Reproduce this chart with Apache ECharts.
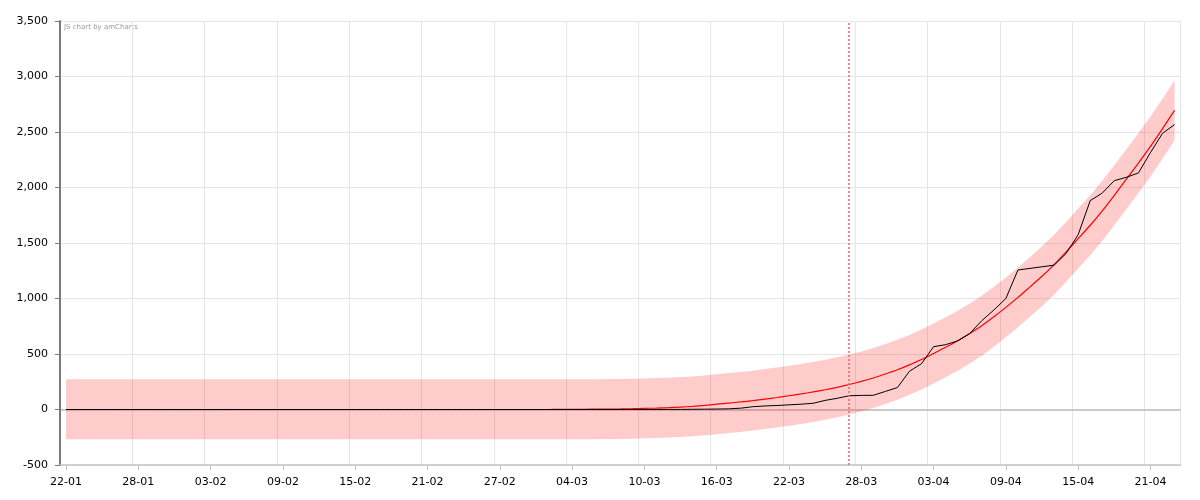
<!DOCTYPE html>
<html>
<head>
<meta charset="utf-8">
<script src="https://cdn.jsdelivr.net/npm/echarts@6/dist/echarts.min.js"></script>
<style>
html,body{margin:0;padding:0;background:#fff;}
#chart{width:1200px;height:500px;}
</style>
</head>
<body>
<div id="chart"></div>
<script>
var categories = [
 '22-01','23-01','24-01','25-01','26-01','27-01','28-01','29-01','30-01','31-01',
 '01-02','02-02','03-02','04-02','05-02','06-02','07-02','08-02','09-02','10-02',
 '11-02','12-02','13-02','14-02','15-02','16-02','17-02','18-02','19-02','20-02',
 '21-02','22-02','23-02','24-02','25-02','26-02','27-02','28-02','29-02',
 '01-03','02-03','03-03','04-03','05-03','06-03','07-03','08-03','09-03','10-03',
 '11-03','12-03','13-03','14-03','15-03','16-03','17-03','18-03','19-03','20-03',
 '21-03','22-03','23-03','24-03','25-03','26-03','27-03','28-03','29-03','30-03','31-03',
 '01-04','02-04','03-04','04-04','05-04','06-04','07-04','08-04','09-04','10-04',
 '11-04','12-04','13-04','14-04','15-04','16-04','17-04','18-04','19-04','20-04',
 '21-04','22-04','23-04'
];

var actual = [
 0,0,0,0,0,0,0,0,0,0,
 0,0,0,0,0,0,0,0,0,0,
 0,0,0,0,0,0,0,0,0,0,
 0,0,0,0,0,0,0,0,0,0,
 0,0,0,0,0,0,0,0,0,0,
 1,1,2,3,4,6,12,25,32,36,
 42,48,56,82,101,124,127,128,163,198,
 345,413,566,584,618,684,800,896,1000,1257,
 1271,1286,1300,1405,1575,1882,1950,2062,2092,2131,
 2315,2488,2567
];

var fitted = [
 0,0,0,0,0,0,0,0,0,0,
 0,0,0,0,0,0,0,0,0,0,
 0,0,0,0,0,0,0,0,0,0,
 0,0,0,0,0,0,0,0,0,0,
 0,1,1,2,3,4,5,7,10,13,
 17,22,28,37,48,58,68,80,94,108,
 124,140,158,178,200,225,253,284,320,358,
 402,450,505,560,620,685,755,835,920,1010,
 1105,1200,1305,1420,1540,1660,1790,1930,2075,2220,
 2370,2530,2695
];

var bandLower = [
 -268,-268,-268,-268,-268,-268,-268,-268,-268,-268,
 -268,-268,-268,-268,-268,-268,-268,-268,-268,-268,
 -268,-268,-268,-268,-268,-268,-268,-268,-268,-268,
 -268,-268,-268,-268,-268,-268,-268,-268,-268,-268,
 -268,-268,-268,-267,-267,-266,-265,-263,-260,-257,
 -253,-248,-242,-233,-222,-212,-202,-190,-176,-162,
 -146,-130,-112,-92,-70,-45,-17,14,50,88,
 132,180,235,290,350,415,485,565,650,740,
 835,930,1035,1150,1270,1390,1520,1660,1805,1950,
 2100,2260,2425
];

var bandUpper = [
 272,272,272,272,272,272,272,272,272,272,
 272,272,272,272,272,272,272,272,272,272,
 272,272,272,272,272,272,272,272,272,272,
 272,272,272,272,272,272,272,272,272,272,
 272,272,272,273,273,274,275,277,280,283,
 287,292,298,307,318,328,338,350,364,378,
 394,410,428,448,470,495,523,554,590,628,
 672,720,775,830,890,955,1025,1105,1190,1280,
 1375,1470,1575,1690,1810,1930,2060,2200,2345,2490,
 2640,2800,2965
];

var yTicks = {min: -500, max: 3500, step: 500};
var markerDate = '27-03';
var creditText = 'JS chart by amCharts';

var bandWidth = bandUpper.map(function (u, i) { return u - bandLower[i]; });

var chart = echarts.init(document.getElementById('chart'), null, {renderer: 'canvas'});
var font = 'DejaVu Sans, Verdana, sans-serif';

chart.setOption({
  animation: false,
  backgroundColor: '#ffffff',
  grid: {left: 60, right: 19.4, top: 21, bottom: 35, containLabel: false},
  graphic: [{
    type: 'text', left: 64, top: 24,
    style: {text: creditText, fill: '#9a9a9a', font: '7px ' + font}
  }],
  xAxis: {
    type: 'category',
    data: categories,
    boundaryGap: true,
    axisLine: {onZero: false, lineStyle: {color: '#c4c4c4', width: 1.5}},
    axisTick: {show: true, interval: 5, alignWithLabel: true, length: 5, lineStyle: {color: '#c4c4c4', width: 1}},
    axisLabel: {interval: 5, color: '#000', fontFamily: font, fontSize: 11, margin: 12},
    splitLine: {show: true, interval: 5, lineStyle: {color: '#e6e6e6', width: 1}}
  },
  yAxis: {
    type: 'value',
    min: yTicks.min, max: yTicks.max, interval: yTicks.step,
    axisLine: {show: true, lineStyle: {color: '#7a7a7a', width: 2}},
    axisTick: {show: true, length: 5, lineStyle: {color: '#7a7a7a', width: 1}},
    axisLabel: {color: '#000', fontFamily: font, fontSize: 11, margin: 12,
      formatter: function (v) { return v.toLocaleString('en-US'); }},
    splitLine: {show: true, lineStyle: {color: '#e6e6e6', width: 1}}
  },
  series: [
    {
      name: 'lower', type: 'line', data: bandLower, stack: 'band', stackStrategy: 'all',
      symbol: 'none', lineStyle: {opacity: 0}, silent: true, z: 1,
      markLine: {
        z: 0, silent: true, symbol: 'none', label: {show: false}, animation: false,
        data: [{yAxis: 0, lineStyle: {color: '#bdbdbd', width: 1.5, type: 'solid'}}]
      }
    },
    {
      name: 'band', type: 'line', data: bandWidth, stack: 'band', stackStrategy: 'all',
      symbol: 'none', lineStyle: {opacity: 0}, silent: true, z: 2,
      areaStyle: {color: 'rgba(255,0,0,0.2)', opacity: 1}
    },
    {
      name: 'fit', type: 'line', data: fitted, symbol: 'none', smooth: 0.2,
      lineStyle: {color: '#ff0000', width: 1.2}, z: 3
    },
    {
      name: 'actual', type: 'line', data: actual, symbol: 'none',
      lineStyle: {color: '#000000', width: 1}, z: 4,
      markLine: {
        silent: true, symbol: 'none', label: {show: false}, animation: false,
        data: [{xAxis: markerDate, lineStyle: {color: '#e06a6a', width: 1.5, type: [2, 2]}}]
      }
    }
  ]
});
</script>
</body>
</html>
